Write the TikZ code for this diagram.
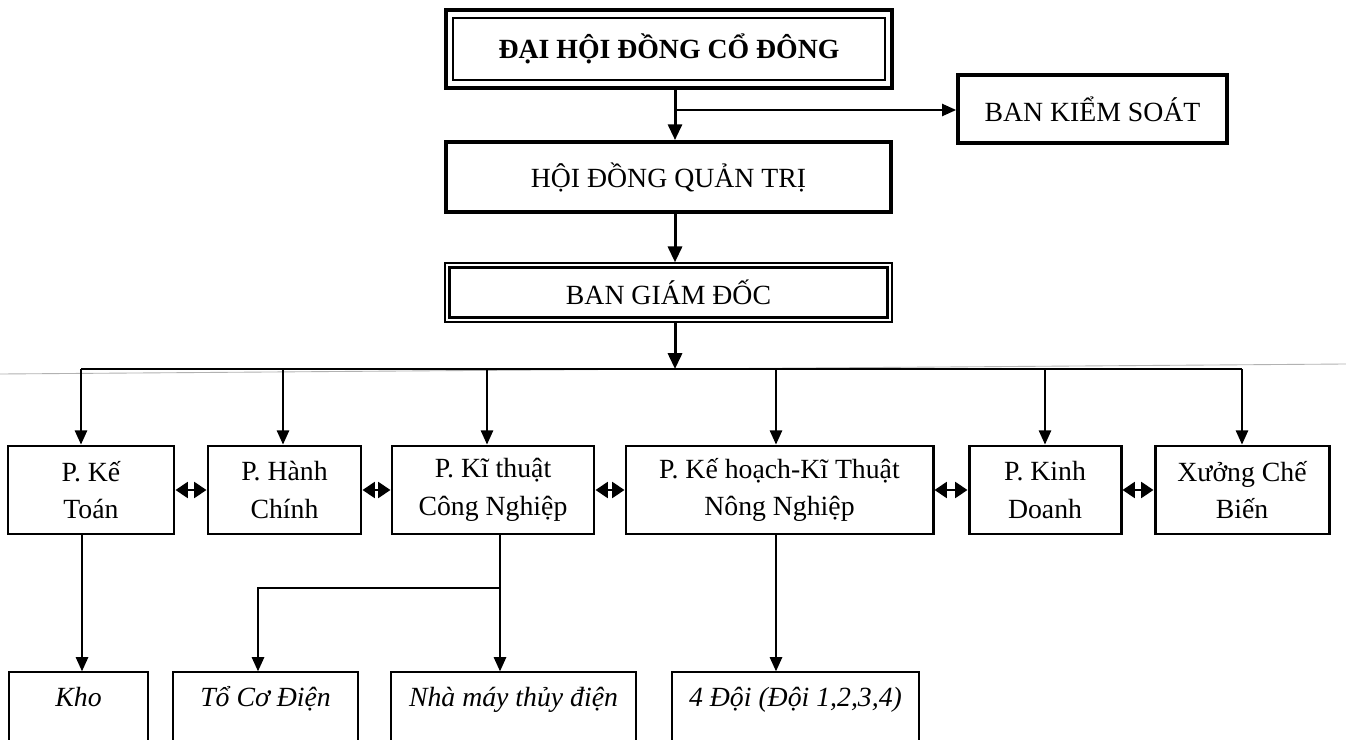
\documentclass[tikz,border=0pt]{standalone}
\usepackage{fontspec}
\setmainfont{Liberation Serif}
\usetikzlibrary{arrows.meta}
\newcommand{\bxnode}[7]{\node[#1, minimum width={(#5-#3)*0.02cm}, minimum height={(#6-#4)*0.02cm}] (#2) at ({(#3+#5)/2},{(#4+#6)/2}) {#7};}
\begin{document}
\begin{tikzpicture}[x=0.02cm,y=-0.02cm,
  txt/.style={font=\fontsize{15.8}{21.5}\selectfont},
  thickbox/.style={draw, line width=2.2pt, inner sep=0pt, align=center, txt},
  thinouter/.style={draw, line width=0.8pt, inner sep=0pt, align=center, txt},
  lthree/.style={draw, line width=1.7pt, inner sep=0pt, align=center, txt},
  lfour/.style={draw, line width=0.8pt, inner sep=0pt},
  lfourtxt/.style={anchor=base, yshift=-0.7cm, inner sep=0pt, font=\fontsize{15.8}{21.5}\selectfont\itshape},
  arrthick/.style={-{Triangle[length=9pt,width=8pt]}, line width=1.7pt},
  arrthin/.style={-{Triangle[length=8pt,width=7pt]}, line width=0.9pt},
  busline/.style={line width=1.3pt},
  darr/.style={{Triangle[length=7pt,width=9pt]}-{Triangle[length=7pt,width=9pt]}, line width=1.4pt}
]
\useasboundingbox (0,0) rectangle (1346,740);
\clip (0,0) rectangle (1346,740);
\fill[white] (0,0) rectangle (1346,740);

% scan line
\draw[gray!60, line width=0.5pt] (0,374) -- (1346,364);

% top level
\bxnode{thickbox, font=\fontsize{15.8}{21.5}\selectfont\bfseries}{dh}{446}{10}{892}{88}{ĐẠI HỘI ĐỒNG CỔ ĐÔNG}
\draw[line width=0.8pt] ([xshift=0.18cm,yshift=0.2cm]dh.south west) rectangle ([xshift=-0.18cm,yshift=-0.2cm]dh.north east);

\bxnode{thickbox}{bks}{958}{75}{1227}{143}{BAN KIỂM SOÁT}
\bxnode{thickbox}{hd}{446}{142}{891}{212}{HỘI ĐỒNG QUẢN TRỊ}

\bxnode{thinouter}{bgd}{445}{263}{892}{322}{BAN GIÁM ĐỐC}
\draw[line width=2pt] ([xshift=0.1cm,yshift=0.1cm]bgd.south west) rectangle ([xshift=-0.1cm,yshift=-0.1cm]bgd.north east);

% level 3
\bxnode{lthree}{k1}{8}{446}{174}{534}{P. Kế\\Toán}
\bxnode{lthree}{k2}{208}{446}{361}{534}{P. Hành\\Chính}
\bxnode{lthree}{k3}{392}{446}{594}{534}{P. Kĩ thuật\\Công Nghiệp}
\bxnode{lthree}{k4}{626}{446}{933}{534}{P. Kế hoạch-Kĩ Thuật\\Nông Nghiệp}
\bxnode{lthree}{k5}{969}{446}{1121}{534}{P. Kinh\\Doanh}
\bxnode{lthree}{k6}{1155}{446}{1329}{534}{Xưởng Chế\\Biến}

% level 4
\bxnode{lfour, label={[lfourtxt]north:Kho}}{kho}{9}{672}{148}{760}{}
\bxnode{lfour, label={[lfourtxt]north:Tổ Cơ Điện}}{to}{173}{672}{358}{760}{}
\bxnode{lfour, label={[lfourtxt]north:Nhà máy thủy điện}}{nm}{391}{672}{636}{760}{}
\bxnode{lfour, label={[lfourtxt]north:4 Đội (Đội 1,2,3,4)}}{d4}{672}{672}{919}{760}{}

% coordinates
\coordinate (xa) at (675,0);
\coordinate (br) at (675,110);
\coordinate (b1) at (81,369);
\coordinate (b2) at (283,369);
\coordinate (b3) at (487,369);
\coordinate (b4) at (776,369);
\coordinate (b5) at (1045,369);
\coordinate (b6) at (1242,369);
\coordinate (d1) at (82,0);
\coordinate (j) at (500,588);
\coordinate (t) at (258,588);
\coordinate (d4x) at (776,0);

% connectors top
\draw[arrthick] (dh.south -| xa) -- (hd.north -| xa);
\draw[arrthin] (br) -- (bks.west |- br);
\draw[arrthick] (hd.south -| xa) -- (bgd.north -| xa);
\draw[arrthick] (bgd.south -| xa) -- (xa |- b1);

% bus
\draw[busline] (b1) -- (b6);
\draw[arrthin] (b1) -- (k1.north -| b1);
\draw[arrthin] (b2) -- (k2.north -| b2);
\draw[arrthin] (b3) -- (k3.north -| b3);
\draw[arrthin] (b4) -- (k4.north -| b4);
\draw[arrthin] (b5) -- (k5.north -| b5);
\draw[arrthin] (b6) -- (k6.north -| b6);

% double arrows
\draw[darr] (k1.east) -- (k2.west);
\draw[darr] (k2.east) -- (k3.west);
\draw[darr] (k3.east) -- (k4.west);
\draw[darr] (k4.east) -- (k5.west);
\draw[darr] (k5.east) -- (k6.west);

% level 3 -> level 4
\draw[arrthin] (k1.south -| d1) -- (kho.north -| d1);
\draw[arrthin] (k3.south -| j) -- (nm.north -| j);
\draw[arrthin] (j) -- (t) -- (to.north -| t);
\draw[arrthin] (k4.south -| d4x) -- (d4.north -| d4x);
\end{tikzpicture}
\end{document}
